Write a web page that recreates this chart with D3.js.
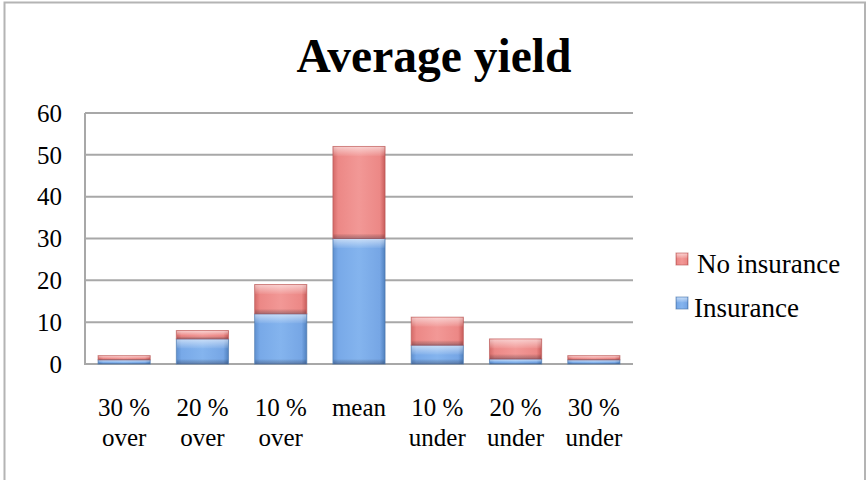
<!DOCTYPE html>
<html>
<head>
<meta charset="utf-8">
<script src="https://cdn.jsdelivr.net/npm/d3@7"></script>
<style>
  body { margin: 0; background: #fff; }
  svg { display: block; }
</style>
</head>
<body>
<div id="chart"></div>
<script>
var categories = [["30 %", "over"], ["20 %", "over"], ["10 %", "over"], ["mean"], ["10 %", "under"], ["20 %", "under"], ["30 %", "under"]];
var insurance = [1, 6, 12, 30, 4.5, 1.2, 1];
var noInsurance = [1, 2, 7, 22, 6.7, 4.8, 1];
var yTicks = [0, 10, 20, 30, 40, 50, 60];
var seriesNames = ["No insurance", "Insurance"];

var width = 866, height = 480;
var margin = {left: 85, right: 233, top: 113, bottom: 116};
var fontSize = 25;

var svg = d3.select("#chart").append("svg")
    .attr("width", width)
    .attr("height", height);

var defs = svg.append("defs");

function gradient(id, stops, vertical) {
    var g = defs.append("linearGradient").attr("id", id)
        .attr("x1", "0%").attr("y1", "0%")
        .attr("x2", vertical ? "0%" : "100%").attr("y2", vertical ? "100%" : "0%");
    stops.forEach(function(s) {
        g.append("stop").attr("offset", s[0]).attr("stop-color", s[1])
            .attr("stop-opacity", s.length > 2 ? s[2] : 1);
    });
}
gradient("redGrad", [["0%", "#d46a68"], ["10%", "#ec8886"], ["50%", "#f29896"], ["90%", "#ec8886"], ["100%", "#c85c5a"]]);
gradient("blueGrad", [["0%", "#5f90cf"], ["10%", "#78a9e8"], ["50%", "#84b4ee"], ["90%", "#76a6e5"], ["100%", "#5081bf"]]);
gradient("topLight", [["0%", "#ffffff", 0.55], ["100%", "#ffffff", 0.05]], true);
gradient("botDark", [["0%", "#000000", 0.0], ["100%", "#2a2a40", 0.35]], true);

// outer frame
svg.append("path")
    .attr("d", "M4.5,480 V2.5 H865 V480")
    .attr("fill", "none")
    .attr("stroke", "#b4b4b4")
    .attr("stroke-width", 2);

var x = d3.scaleBand()
    .domain(d3.range(categories.length))
    .range([margin.left, width - margin.right])
    .paddingInner(1 / 3)
    .paddingOuter(1 / 6);

var y = d3.scaleLinear()
    .domain([0, 60])
    .range([height - margin.bottom, margin.top]);

// gridlines
svg.append("g")
    .selectAll("line")
    .data(yTicks)
    .enter().append("line")
    .attr("x1", margin.left)
    .attr("x2", width - margin.right)
    .attr("y1", function(d) { return y(d); })
    .attr("y2", function(d) { return y(d); })
    .attr("stroke", "#a8a8a8")
    .attr("stroke-width", 2);

// y axis line
svg.append("line")
    .attr("x1", margin.left).attr("x2", margin.left)
    .attr("y1", y(60)).attr("y2", y(0) + 1)
    .attr("stroke", "#a8a8a8")
    .attr("stroke-width", 2);

// y tick labels
var yAxis = d3.axisLeft(y).tickValues(yTicks).tickSize(0).tickPadding(23);
var yg = svg.append("g")
    .attr("transform", "translate(" + margin.left + ",0)")
    .call(yAxis);
yg.select(".domain").remove();
yg.selectAll("text")
    .attr("font-family", "Liberation Serif, serif")
    .attr("font-size", fontSize)
    .attr("fill", "#000")
    .attr("dy", "0.33em");

// stacked bars
var stackData = categories.map(function(c, i) {
    return {i: i, ins: insurance[i], no: noInsurance[i]};
});
var layers = d3.stack().keys(["ins", "no"])(stackData);
var fills = {ins: ["url(#blueGrad)", "#4a74a8"], no: ["url(#redGrad)", "#b85553"]};

layers.forEach(function(layer) {
    var f = fills[layer.key];
    var g = svg.append("g");
    var seg = g.selectAll("g")
        .data(layer)
        .enter().append("g");
    seg.append("rect")
        .attr("x", function(d) { return x(d.data.i); })
        .attr("width", x.bandwidth())
        .attr("y", function(d) { return y(d[1]); })
        .attr("height", function(d) { return y(d[0]) - y(d[1]); })
        .attr("fill", f[0])
        .attr("stroke", f[1])
        .attr("stroke-opacity", 0.6)
        .attr("stroke-width", 1);
    seg.append("rect")
        .attr("x", function(d) { return x(d.data.i) + 0.5; })
        .attr("width", x.bandwidth() - 1)
        .attr("y", function(d) { return y(d[1]) + 0.5; })
        .attr("height", function(d) { return Math.min(9, (y(d[0]) - y(d[1])) / 2); })
        .attr("fill", "url(#topLight)");
    seg.append("rect")
        .attr("x", function(d) { return x(d.data.i) + 0.5; })
        .attr("width", x.bandwidth() - 1)
        .attr("y", function(d) { return y(d[0]) - Math.min(5, (y(d[0]) - y(d[1])) / 3); })
        .attr("height", function(d) { return Math.min(5, (y(d[0]) - y(d[1])) / 3); })
        .attr("fill", "url(#botDark)");
});

// x labels
var xl = svg.append("g")
    .selectAll("text")
    .data(categories)
    .enter().append("text")
    .attr("x", function(d, i) { return x(i) + x.bandwidth() / 2; })
    .attr("y", 416)
    .attr("text-anchor", "middle")
    .attr("font-family", "Liberation Serif, serif")
    .attr("font-size", fontSize)
    .attr("fill", "#000");
xl.selectAll("tspan")
    .data(function(d) { return d; })
    .enter().append("tspan")
    .attr("x", function() { return this.parentNode.getAttribute("x"); })
    .attr("dy", function(d, j) { return j === 0 ? 0 : 30; })
    .text(function(d) { return d; });

// title
svg.append("text")
    .attr("x", 434)
    .attr("y", 72)
    .attr("text-anchor", "middle")
    .attr("font-family", "Liberation Serif, serif")
    .attr("font-weight", "bold")
    .attr("font-size", 47.5)
    .attr("fill", "#000")
    .text("Average yield");

// legend
var legend = svg.append("g").attr("transform", "translate(676,253)");
var lfill = [["url(#redGrad)", "#b85553"], ["url(#blueGrad)", "#4a74a8"]];
var li = legend.selectAll("g")
    .data(seriesNames)
    .enter().append("g")
    .attr("transform", function(d, i) { return "translate(0," + (i * 44) + ")"; });
li.append("rect")
    .attr("width", 12).attr("height", 12)
    .attr("fill", function(d, i) { return lfill[i][0]; })
    .attr("stroke", function(d, i) { return lfill[i][1]; })
    .attr("stroke-opacity", 0.6);
li.append("rect")
    .attr("x", 0.5).attr("y", 0.5)
    .attr("width", 11).attr("height", 5)
    .attr("fill", "url(#topLight)");
li.append("text")
    .attr("x", function(d, i) { return i === 0 ? 21 : 18; })
    .attr("y", 20)
    .attr("font-family", "Liberation Serif, serif")
    .attr("font-size", 27)
    .attr("fill", "#000")
    .text(function(d) { return d; });
</script>
</body>
</html>
